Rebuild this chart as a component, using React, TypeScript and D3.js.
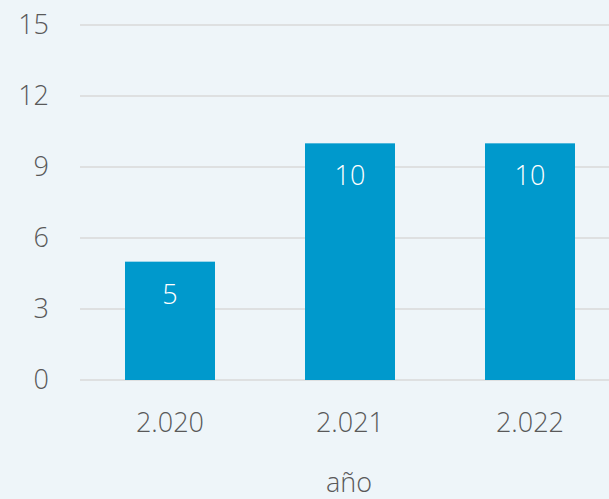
import React from "react";
import * as d3 from "d3";

const categories = ["2.020", "2.021", "2.022"];
const values = [5, 10, 10];
const yTicks = [0, 3, 6, 9, 12, 15];
const xTitle = "año";

export default function App() {
  const W = 609, H = 499;
  const x = d3.scaleBand<string>().domain(categories).range([80, 620]).paddingInner(0.5).paddingOuter(0.25);
  const y = d3.scaleLinear().domain([0, 15]).range([380, 25]);
  const font = "'Open Sans', 'Noto Sans', sans-serif";
  return (
    <svg width={W} height={H} style={{ position: "absolute", left: 0, top: 0 }} fontFamily={font} fontWeight={300}>
      <rect width={W} height={H} fill="#eef5f9" />
      {yTicks.map((t) => (
        <g key={t}>
          <line x1={80} x2={W} y1={y(t)} y2={y(t)} stroke="#d9d9d9" strokeWidth={1.5} />
          <text x={49} y={y(t)} dy="0.35em" textAnchor="end" fontSize={27} fill="#595959">{t}</text>
        </g>
      ))}
      {categories.map((c, i) => (
        <g key={c}>
          <rect x={x(c)} y={y(values[i])} width={x.bandwidth()} height={y(0) - y(values[i])} fill="#0099cc" />
          <text x={x(c)! + x.bandwidth() / 2} y={y(values[i]) + 42} textAnchor="middle" fontSize={27} fill="#ffffff">{values[i]}</text>
          <text x={x(c)! + x.bandwidth() / 2} y={432} textAnchor="middle" fontSize={27} fill="#595959">{c}</text>
        </g>
      ))}
      <text x={349} y={492} textAnchor="middle" fontSize={27} fill="#595959">{xTitle}</text>
    </svg>
  );
}
